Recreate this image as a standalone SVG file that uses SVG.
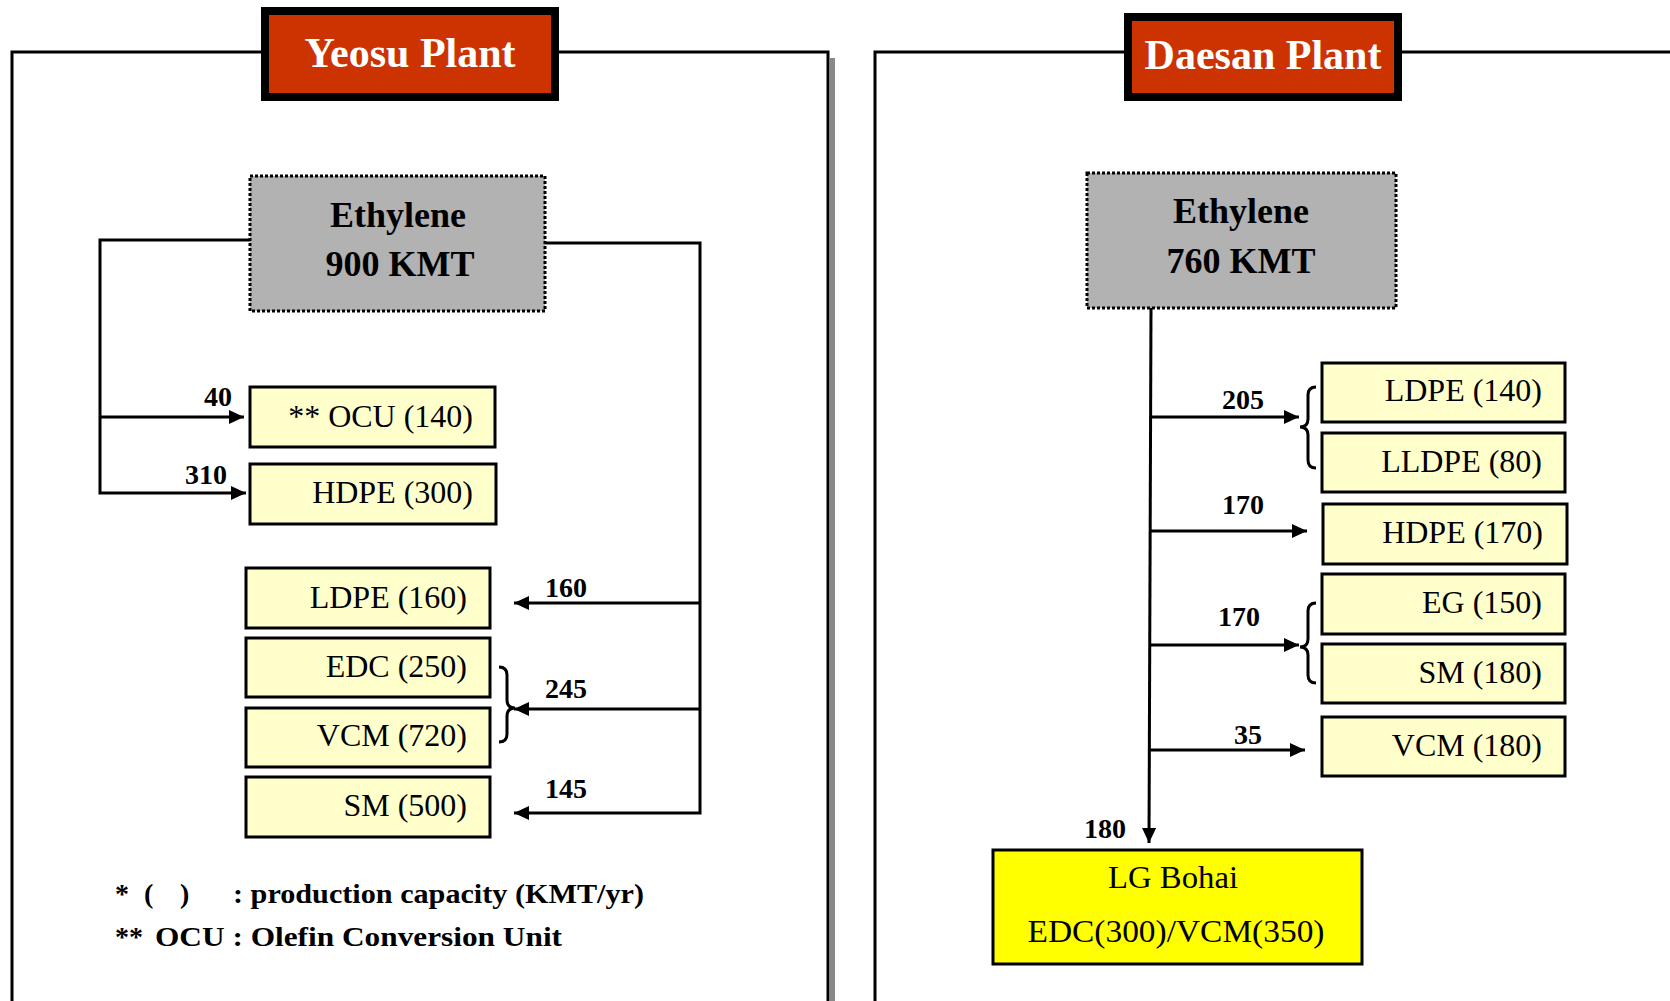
<svg xmlns="http://www.w3.org/2000/svg" width="1670" height="1001" viewBox="0 0 1670 1001">
<style>
.frame{fill:none;stroke:#000;stroke-width:3}
.title-box{fill:#CC3300;stroke:#000;stroke-width:8}
.title{font-family:"Liberation Serif",serif;font-weight:bold;font-size:42px;fill:#fff;text-anchor:middle}
.eth{fill:#B2B2B2;stroke:#000;stroke-width:3;stroke-dasharray:3 2}
.eth-t{font-family:"Liberation Serif",serif;font-weight:bold;font-size:36px;fill:#000;text-anchor:middle}
.prod{fill:#FFFFCC;stroke:#000;stroke-width:3}
.prod-t{font-family:"Liberation Serif",serif;font-size:32px;fill:#000;text-anchor:end}
.bohai{fill:#FFFF00;stroke:#000;stroke-width:3}
.bohai-t{font-family:"Liberation Serif",serif;font-size:32px;fill:#000;text-anchor:middle}
.conn{fill:none;stroke:#000;stroke-width:3}
.arr{marker-end:url(#ah)}
.lbl{font-family:"Liberation Serif",serif;font-weight:bold;font-size:28px;fill:#000}
.note{font-family:"Liberation Serif",serif;font-weight:bold;font-size:28px;fill:#000}
</style>
<defs>
<marker id="ah" markerUnits="userSpaceOnUse" markerWidth="16" markerHeight="14" refX="15" refY="7" orient="auto">
<path d="M0,0 L15,7 L0,14 z" fill="#000"/>
</marker>
</defs>
<rect width="1670" height="1001" fill="#fff"/>

<g id="frames">
<rect x="830" y="58" width="5" height="943" fill="#888"/>
<path class="frame" d="M261,52 H12 V1001 M559,52 H828 V1001"/>
<path class="frame" d="M1124,52 H875 V1001 M1402,52 H1670"/>
</g>

<g id="yeosu-title">
<rect class="title-box" x="265" y="11" width="290" height="86"/>
<text class="title" x="410" y="67">Yeosu Plant</text>
</g>
<g id="daesan-title">
<rect class="title-box" x="1128" y="17" width="270" height="80"/>
<text class="title" x="1263" y="69">Daesan Plant</text>
</g>

<g id="connectors">
<path class="conn arr" d="M250,240 H100 V493 H246"/>
<path class="conn arr" d="M100,417 H244"/>
<path class="conn arr" d="M545,243 H700 V813 H514"/>
<path class="conn arr" d="M700,603 H514"/>
<path class="conn arr" d="M700,709 H514"/>
<path class="conn" d="M499,667 Q507,667 507,675 L507,700 Q507,708 515,708 Q507,708 507,716 L507,734 Q507,742 499,742"/>
<path class="conn arr" d="M1151,308 L1149,843"/>
<path class="conn arr" d="M1151,417 H1299"/>
<path class="conn arr" d="M1151,531 H1307"/>
<path class="conn arr" d="M1150,645 H1299"/>
<path class="conn arr" d="M1150,750 H1305"/>
<path class="conn" d="M1316,387 Q1308,387 1308,395 L1308,419 Q1308,427 1300,427 Q1308,427 1308,435 L1308,460 Q1308,468 1316,468"/>
<path class="conn" d="M1316,603 Q1308,603 1308,611 L1308,639 Q1308,647 1300,647 Q1308,647 1308,655 L1308,675 Q1308,683 1316,683"/>
<text class="lbl" x="204" y="406">40</text>
<text class="lbl" x="185" y="484">310</text>
<text class="lbl" x="545" y="597">160</text>
<text class="lbl" x="545" y="698">245</text>
<text class="lbl" x="545" y="798">145</text>
<text class="lbl" x="1222" y="409">205</text>
<text class="lbl" x="1222" y="514">170</text>
<text class="lbl" x="1218" y="626">170</text>
<text class="lbl" x="1234" y="744">35</text>
<text class="lbl" x="1084" y="838">180</text>
</g>

<g id="ethylene-yeosu">
<rect class="eth" x="250" y="176" width="295" height="135"/>
<text class="eth-t" x="398" y="227">Ethylene</text>
<text class="eth-t" x="400" y="276">900 KMT</text>
</g>
<g id="ocu">
<rect class="prod" x="250" y="387" width="245" height="60"/>
<text class="prod-t" x="473" y="427">** OCU (140)</text>
</g>
<g id="hdpe-yeosu">
<rect class="prod" x="250" y="464" width="246" height="60"/>
<text class="prod-t" x="473" y="503">HDPE (300)</text>
</g>
<g id="ldpe-yeosu">
<rect class="prod" x="246" y="568" width="244" height="60"/>
<text class="prod-t" x="467" y="608">LDPE (160)</text>
</g>
<g id="edc-yeosu">
<rect class="prod" x="246" y="638" width="244" height="59"/>
<text class="prod-t" x="467" y="677">EDC (250)</text>
</g>
<g id="vcm-yeosu">
<rect class="prod" x="246" y="708" width="244" height="59"/>
<text class="prod-t" x="467" y="746">VCM (720)</text>
</g>
<g id="sm-yeosu">
<rect class="prod" x="246" y="777" width="244" height="60"/>
<text class="prod-t" x="467" y="816">SM (500)</text>
</g>

<g id="notes">
<text class="note" x="115" y="903">*</text>
<text class="note" x="144" y="903">(</text>
<text class="note" x="180" y="903">)</text>
<text class="note" x="233" y="903" textLength="411" lengthAdjust="spacingAndGlyphs">: production capacity (KMT/yr)</text>
<text class="note" x="115" y="946">**</text>
<text class="note" x="155" y="946" textLength="407" lengthAdjust="spacingAndGlyphs">OCU : Olefin Conversion Unit</text>
</g>

<g id="ethylene-daesan">
<rect class="eth" x="1087" y="173" width="309" height="135"/>
<text class="eth-t" x="1241" y="223">Ethylene</text>
<text class="eth-t" x="1241" y="273">760 KMT</text>
</g>
<g id="ldpe-daesan">
<rect class="prod" x="1322" y="363" width="243" height="59"/>
<text class="prod-t" x="1542" y="401">LDPE (140)</text>
</g>
<g id="lldpe-daesan">
<rect class="prod" x="1322" y="433" width="243" height="59"/>
<text class="prod-t" x="1542" y="472">LLDPE (80)</text>
</g>
<g id="hdpe-daesan">
<rect class="prod" x="1323" y="504" width="244" height="60"/>
<text class="prod-t" x="1543" y="543">HDPE (170)</text>
</g>
<g id="eg-daesan">
<rect class="prod" x="1322" y="574" width="243" height="60"/>
<text class="prod-t" x="1542" y="613">EG (150)</text>
</g>
<g id="sm-daesan">
<rect class="prod" x="1322" y="644" width="243" height="59"/>
<text class="prod-t" x="1542" y="683">SM (180)</text>
</g>
<g id="vcm-daesan">
<rect class="prod" x="1322" y="717" width="243" height="59"/>
<text class="prod-t" x="1542" y="756">VCM (180)</text>
</g>
<g id="lg-bohai">
<rect class="bohai" x="993" y="850" width="369" height="114"/>
<text class="bohai-t" x="1173" y="888" textLength="130" lengthAdjust="spacingAndGlyphs">LG Bohai</text>
<text class="bohai-t" x="1176" y="942" textLength="297" lengthAdjust="spacingAndGlyphs">EDC(300)/VCM(350)</text>
</g>
</svg>
